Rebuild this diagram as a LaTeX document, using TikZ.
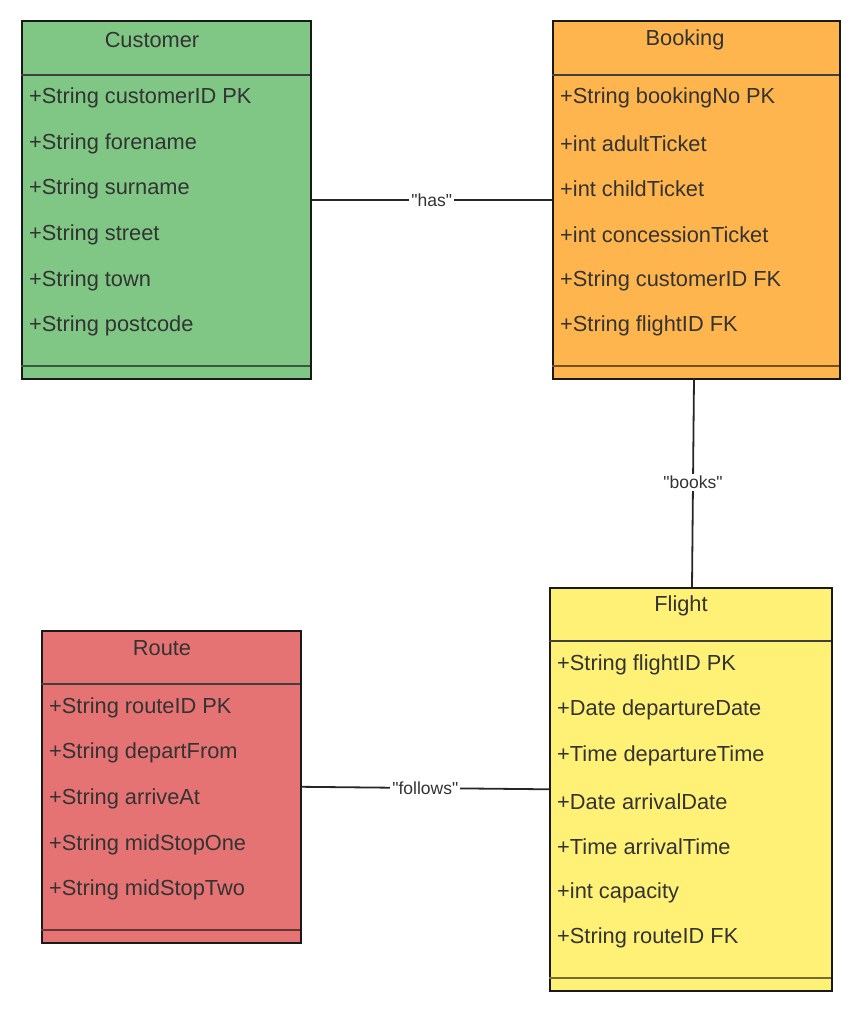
\documentclass[tikz,border=0pt]{standalone}
\usepackage{fontspec}
\setmainfont{Liberation Sans}
\definecolor{cgreen}{HTML}{80C684}
\definecolor{corange}{HTML}{FFB54D}
\definecolor{cyellow}{HTML}{FFF176}
\definecolor{cred}{HTML}{E57373}
\definecolor{ctext}{HTML}{333333}
\begin{document}
\begin{tikzpicture}[x=1pt,y=-1pt,
  entity/.style={draw=black!90, line width=1.6pt, rectangle, inner sep=0pt, anchor=north west},
  sepline/.style={draw=black!75, line width=1.1pt},
  botline/.style={draw=black!55, line width=1.1pt},
  title/.style={font=\fontsize{21.8}{26}\selectfont, text=ctext, anchor=center},
  attr/.style={font=\fontsize{21.8}{26}\selectfont, text=ctext, anchor=west, inner sep=0pt},
  conn/.style={draw=black!85, line width=1.8pt},
  rel/.style={font=\fontsize{17.5}{21}\selectfont, text=ctext, fill=white, inner sep=2pt}]
\useasboundingbox (0,0) rectangle (861,1014);
% Customer
\node[entity, fill=cgreen, minimum width=289pt, minimum height=358pt] (cust) at (21,20) {};
\draw[sepline] (21,75) -- (310,75);
\draw[botline, draw=cgreen!45!black] (21,366) -- (310,366);
\node[title] (custT) at (152,40) {Customer};
\node[attr] (c1) at (29,98) {+String customerID PK};
\node[attr] (c2) at (29,143.5) {+String forename};
\node[attr] (c3) at (29,189) {+String surname};
\node[attr] (c4) at (29,235) {+String street};
\node[attr] (c5) at (29,280.5) {+String town};
\node[attr] (c6) at (29,326) {+String postcode};
% Booking
\node[entity, fill=corange, minimum width=287pt, minimum height=358pt] (book) at (552,20) {};
\draw[sepline] (552,75) -- (839,75);
\draw[botline, draw=corange!45!black] (552,366) -- (839,366);
\node[title] (bookT) at (685,40) {Booking};
\node[attr] (b1) at (560,98) {+String bookingNo PK};
\node[attr] (b2) at (560,143.5) {+int adultTicket};
\node[attr] (b3) at (560,189) {+int childTicket};
\node[attr] (b4) at (560,235) {+int concessionTicket};
\node[attr] (b5) at (560,280.5) {+String customerID FK};
\node[attr] (b6) at (560,326) {+String flightID FK};
% Flight
\node[entity, fill=cyellow, minimum width=282pt, minimum height=403pt] (flt) at (549,587) {};
\draw[sepline] (549,641) -- (831,641);
\draw[botline, draw=cyellow!45!black] (549,978) -- (831,978);
\node[title] (fltT) at (681,606) {Flight};
\node[attr] (f1) at (557,664.5) {+String flightID PK};
\node[attr] (f2) at (557,710) {+Date departureDate};
\node[attr] (f3) at (557,755.5) {+Time departureTime};
\node[attr] (f4) at (557,801.5) {+Date arrivalDate};
\node[attr] (f5) at (557,847) {+Time arrivalTime};
\node[attr] (f6) at (557,892.5) {+int capacity};
\node[attr] (f7) at (557,938) {+String routeID FK};
% Route
\node[entity, fill=cred, minimum width=259pt, minimum height=312pt] (route) at (41,630) {};
\draw[sepline] (41,684) -- (300,684);
\draw[botline, draw=cred!45!black] (41,930) -- (300,930);
\node[title] (routeT) at (162,648) {Route};
\node[attr] (r1) at (49,707.5) {+String routeID PK};
\node[attr] (r2) at (49,753) {+String departFrom};
\node[attr] (r3) at (49,799) {+String arriveAt};
\node[attr] (r4) at (49,844.5) {+String midStopOne};
\node[attr] (r5) at (49,890) {+String midStopTwo};
% connectors
\coordinate (bookS) at (694,378);
\coordinate (fltN) at (692,587);
\draw[conn] (cust.east) -- node[rel] (hasL) {\textquotedbl has\textquotedbl} (book.west);
\draw[conn] (bookS) -- node[rel] (booksL) {\textquotedbl books\textquotedbl} (fltN);
\draw[conn] (route.east) -- node[rel] (followsL) {\textquotedbl follows\textquotedbl} (flt.west);
\end{tikzpicture}
\end{document}
